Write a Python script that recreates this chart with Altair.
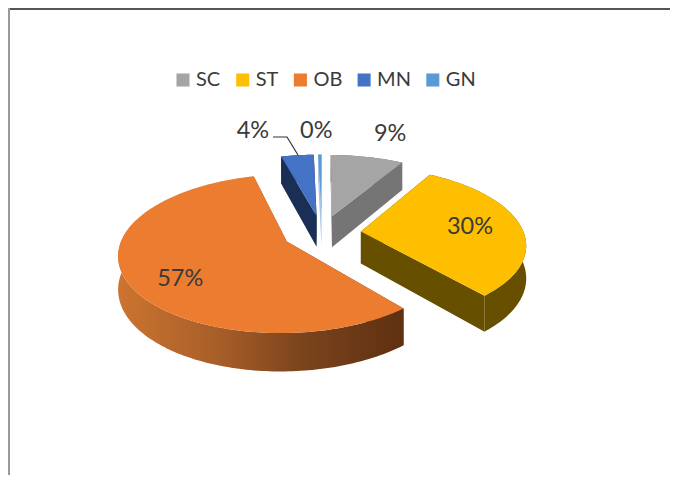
import math
import altair as alt

# ---- data
names = ["SC", "ST", "OB", "MN", "GN"]
values = [8.5, 30.3, 57.0, 3.8, 0.4]
labels = ["9%", "30%", "57%", "4%", "0%"]
top_colors = ["#A5A5A5", "#FDBF00", "#EC7C30", "#4472C4", "#5B9BD5"]
wall_colors = ["#757575", "#665000", "#5F3012", "#1B2E55", "#A9C4E4"]

# ---- layout of the tilted pie (plot-area pixels)
W, H = 662, 467
CX, CY = 314, 225
RX, RY = 163, 75
PERSP = 0.15
EXPLODE = 0.24
DEPTH = 32
LABEL_RADIUS = [1.0, 0.6, 0.6, 1.0, 1.0]
LABEL_SHIFT = [(23, -23), (13, -1), (-13, 15), (-44.5, -24), (-3.5, -24)]
FONT = "Lato"
TEXT = "#3A3A3A"


def proj(u, v, drop=0.0):
    s = 1 / (1 - PERSP * v)
    return [CX + RX * u * s, CY + RY * v * s + drop * s]


def ground(apex, a, r=1.0):
    return apex[0] + r * math.sin(a), apex[1] - r * math.cos(a)


def feature(ring, name, fill):
    ring = [list(p) for p in ring] + [list(ring[0])]
    return {
        "type": "Feature",
        "geometry": {"type": "Polygon", "coordinates": [ring]},
        "properties": {"name": name, "fill": fill},
    }


total = sum(values)
start = 0.0
tops, walls, ob_wall, text_rows = [], [], [], []
for i, name in enumerate(names):
    a0 = start / total * 2 * math.pi
    start += values[i]
    a1 = start / total * 2 * math.pi
    mid = (a0 + a1) / 2
    apex = (EXPLODE * math.sin(mid), -EXPLODE * math.cos(mid))
    steps = max(2, int((a1 - a0) / 0.02))
    rim = [ground(apex, a0 + (a1 - a0) * j / steps) for j in range(steps + 1)]
    top = [proj(*apex)] + [proj(*g) for g in rim]
    tops.append(feature(top, name, top_colors[i]))
    # the two cut faces
    for g in (rim[0], rim[-1]):
        walls.append(feature(
            [proj(*apex), proj(*g), proj(*g, DEPTH), proj(*apex, DEPTH)],
            name, wall_colors[i]))
    # the rim face
    rim_ring = [proj(*g) for g in rim] + [proj(*g, DEPTH) for g in reversed(rim)]
    if name == "OB":
        front = [g for g in rim if g[1] > -0.2]
        ob_wall.append(feature(
            [proj(*g) for g in front] + [proj(*g, DEPTH) for g in reversed(front)],
            name, wall_colors[i]))
    else:
        walls.append(feature(rim_ring, name, wall_colors[i]))
    gu, gv = ground(apex, mid, LABEL_RADIUS[i])
    px, py = proj(gu, gv)
    text_rows.append({
        "label": labels[i],
        "px": px + LABEL_SHIFT[i][0],
        "py": py + LABEL_SHIFT[i][1],
    })

projection = alt.Projection(type="identity", scale=1, translate=[0, 0])

wall_layer = (
    alt.Chart(alt.Data(values=walls))
    .mark_geoshape(strokeWidth=0)
    .encode(fill=alt.Fill("properties.fill:N", scale=None))
    .project(**projection.to_dict())
)

gradient = alt.LinearGradient(
    gradient="linear",
    x1=0, x2=1, y1=0, y2=0,
    stops=[
        alt.GradientStop(color="#CC7430", offset=0),
        alt.GradientStop(color="#A85E28", offset=0.35),
        alt.GradientStop(color="#7A431C", offset=0.65),
        alt.GradientStop(color="#5F3012", offset=1),
    ],
)
ob_layer = (
    alt.Chart(alt.Data(values=ob_wall))
    .mark_geoshape(fill=gradient, strokeWidth=0)
    .project(**projection.to_dict())
)

top_layer = (
    alt.Chart(alt.Data(values=tops))
    .mark_geoshape(strokeWidth=0)
    .encode(
        color=alt.Color(
            "properties.name:N",
            scale=alt.Scale(domain=names, range=top_colors),
            legend=alt.Legend(
                title=None,
                orient="none",
                legendX=165,
                legendY=62,
                direction="horizontal",
                columns=5,
                symbolType="square",
                symbolSize=170,
                symbolStrokeWidth=0,
                symbolOpacity=1,
                labelFont=FONT,
                labelFontSize=20,
                labelColor=TEXT,
                labelOffset=3,
                columnPadding=11.7,
                padding=0,
            ),
        )
    )
    .project(**projection.to_dict())
)

text_layer = (
    alt.Chart(alt.Data(values=text_rows))
    .mark_text(font=FONT, fontSize=23.5, color=TEXT, align="center", baseline="middle")
    .encode(
        x=alt.X("px:Q", scale=None),
        y=alt.Y("py:Q", scale=None),
        text="label:N",
    )
)

leader = (
    alt.Chart(alt.Data(values=[
        {"px": 265, "py": 129, "o": 0},
        {"px": 279, "py": 129, "o": 1},
        {"px": 290, "py": 147, "o": 2},
    ]))
    .mark_line(color="#333333", strokeWidth=1.2)
    .encode(
        x=alt.X("px:Q", scale=None),
        y=alt.Y("py:Q", scale=None),
        order="o:Q",
    )
)

frame_top = alt.Chart(alt.Data(values=[{"a": 1}])).mark_rule(color="#555555", strokeWidth=2).encode(
    x=alt.value(0), x2=alt.value(W), y=alt.value(1)
)
frame_left = alt.Chart(alt.Data(values=[{"a": 1}])).mark_rule(color="#999999", strokeWidth=2).encode(
    x=alt.value(1), y=alt.value(0), y2=alt.value(H)
)

chart = (
    alt.layer(frame_top, frame_left, wall_layer, ob_layer, top_layer, leader, text_layer)
    .properties(width=W, height=H, padding=0, autosize=alt.AutoSizeParams(type="none"), background="white")
    .configure_view(stroke=None)
)

chart.save("out.html", embed_options={"renderer": "svg", "actions": False})
